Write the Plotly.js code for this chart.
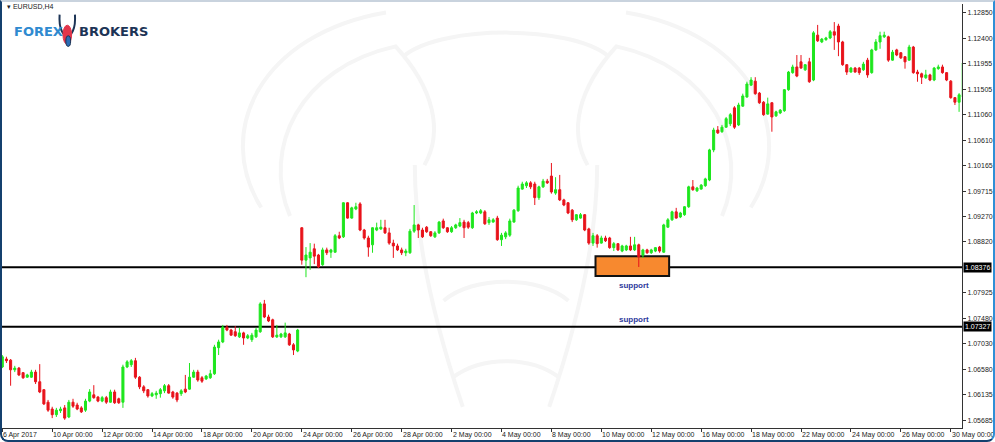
<!DOCTYPE html>
<html><head><meta charset="utf-8">
<script src="https://cdn.plot.ly/plotly-3.0.1.min.js"></script>
<style>
html,body{margin:0;padding:0;background:#fff;}
#wrap{position:relative;width:995px;height:442px;overflow:hidden;}
#chart{position:absolute;left:0;top:0;width:995px;height:442px;}
#frame{position:absolute;left:0;top:0;width:995px;height:442px;box-sizing:border-box;border:2px solid #14406e;border-top-color:#c9d3de;border-right-color:#2f8fd6;border-radius:0 0 8px 8px;pointer-events:none;}
</style></head><body>
<div id="wrap"><div id="chart"></div><div id="frame"></div></div>
<script>
// EURUSD H4 candles, 6 Apr 2017 .. 30 May 2017
const openP = [
1.0662,1.0676,1.0674,1.0657,1.0660,1.0652,1.0644,1.0644,1.0653,1.0636,1.0622,1.0600,1.0588,1.0578,1.0585,1.0590,1.0574,1.0600,1.0595,1.0590,
1.0586,1.0602,1.0613,1.0609,1.0602,1.0608,1.0600,1.0618,1.0606,1.0600,1.0662,1.0666,1.0673,1.0644,1.0627,1.0622,1.0611,1.0613,1.0615,1.0620,
1.0629,1.0618,1.0616,1.0615,1.0623,1.0623,1.0644,1.0653,1.0643,1.0641,1.0643,1.0650,1.0696,1.0706,1.0732,1.0727,1.0724,1.0715,1.0722,1.0713,
1.0710,1.0715,1.0724,1.0773,1.0750,1.0745,1.0715,1.0715,1.0715,1.0720,1.0701,1.0690,
1.0907,1.0850,1.0854,1.0870,1.0859,1.0842,1.0868,1.0864,1.0864,1.0893,1.0891,1.0951,1.0924,1.0940,1.0949,1.0903,1.0889,1.0877,1.0903,1.0905,
1.0907,1.0898,1.0880,1.0875,1.0868,1.0863,1.0863,1.0901,1.0912,1.0903,1.0908,1.0900,1.0891,1.0898,1.0919,1.0907,1.0900,1.0907,1.0910,1.0917,
1.0916,1.0907,1.0933,1.0933,1.0935,1.0916,1.0917,1.0924,1.0886,1.0891,1.0894,1.0917,1.0937,1.0975,1.0981,1.0986,1.0984,1.0960,1.0979,1.0989,
1.0998,1.0968,1.0974,1.0956,1.0951,1.0938,1.0921,1.0924,1.0930,1.0905,1.0880,1.0893,1.0880,1.0889,1.0889,1.0872,1.0879,1.0866,1.0868,1.0875,
1.0868,1.0877,1.0859,1.0868,1.0863,1.0866,1.0873,1.0864,1.0908,1.0921,1.0935,1.0926,1.0930,1.0944,1.0979,1.0972,1.0975,1.0981,1.0991,1.1044,
1.1079,1.1076,1.1084,1.1090,1.1118,1.1088,1.1121,1.1137,1.1158,1.1165,1.1144,1.1128,1.1107,1.1127,1.1104,1.1109,1.1113,1.1150,1.1180,1.1190,
1.1199,1.1185,1.1199,1.1167,1.1246,1.1234,1.1238,1.1241,1.1252,1.1262,1.1234,1.1194,1.1181,1.1188,1.1188,1.1185,1.1202,1.1180,1.1220,1.1234,
1.1243,1.1243,1.1202,1.1220,1.1215,1.1208,1.1202,1.1225,1.1181,1.1178,1.1171,1.1176,1.1167,1.1187,1.1190,1.1180,1.1165,1.1136,1.1128,1.1137];
const highP = [
1.0683,1.0680,1.0676,1.0664,1.0662,1.0653,1.0650,1.0657,1.0657,1.0667,1.0623,1.0604,1.0592,1.0590,1.0592,1.0595,1.0604,1.0606,1.0599,1.0593,
1.0606,1.0623,1.0630,1.0611,1.0611,1.0611,1.0622,1.0622,1.0608,1.0666,1.0674,1.0676,1.0678,1.0646,1.0630,1.0623,1.0618,1.0620,1.0625,1.0632,
1.0632,1.0620,1.0618,1.0623,1.0648,1.0669,1.0657,1.0657,1.0646,1.0648,1.0657,1.0701,1.0710,1.0736,1.0736,1.0729,1.0734,1.0731,1.0724,1.0720,
1.0722,1.0731,1.0776,1.0780,1.0754,1.0747,1.0736,1.0722,1.0740,1.0722,1.0704,1.0729,
1.0908,1.0873,1.0880,1.0879,1.0861,1.0872,1.0872,1.0870,1.0896,1.0900,1.0952,1.0952,1.0944,1.0951,1.0952,1.0905,1.0893,1.0908,1.0916,1.0921,
1.0921,1.0907,1.0886,1.0879,1.0872,1.0870,1.0905,1.0947,1.0914,1.0907,1.0910,1.0901,1.0901,1.0919,1.0923,1.0908,1.0910,1.0914,1.0924,1.0921,
1.0919,1.0935,1.0938,1.0940,1.0938,1.0926,1.0924,1.0928,1.0898,1.0901,1.0923,1.0940,1.0981,1.0988,1.0989,1.0989,1.0988,1.0981,1.0993,1.0993,
1.1021,1.0996,1.1000,1.0958,1.0952,1.0940,1.0931,1.0933,1.0931,1.0907,1.0898,1.0896,1.0893,1.0893,1.0891,1.0882,1.0880,1.0877,1.0877,1.0891,
1.0891,1.0879,1.0870,1.0870,1.0870,1.0873,1.0875,1.0914,1.0924,1.0937,1.0942,1.0935,1.0945,1.0981,1.0991,1.0979,1.0984,1.0995,1.1046,1.1083,
1.1086,1.1088,1.1102,1.1109,1.1121,1.1127,1.1143,1.1164,1.1172,1.1172,1.1146,1.1130,1.1136,1.1128,1.1113,1.1116,1.1151,1.1183,1.1194,1.1211,
1.1211,1.1195,1.1206,1.1253,1.1264,1.1241,1.1243,1.1255,1.1269,1.1266,1.1236,1.1195,1.1190,1.1190,1.1190,1.1199,1.1206,1.1222,1.1239,1.1252,
1.1252,1.1245,1.1220,1.1222,1.1216,1.1209,1.1229,1.1227,1.1185,1.1180,1.1185,1.1178,1.1190,1.1194,1.1194,1.1181,1.1167,1.1137,1.1144,1.1199];
const lowP = [
1.0660,1.0669,1.0629,1.0653,1.0646,1.0641,1.0643,1.0643,1.0632,1.0616,1.0595,1.0583,1.0572,1.0574,1.0581,1.0569,1.0572,1.0590,1.0586,1.0581,
1.0583,1.0600,1.0606,1.0600,1.0600,1.0597,1.0599,1.0597,1.0597,1.0590,1.0660,1.0662,1.0641,1.0623,1.0616,1.0608,1.0609,1.0606,1.0608,1.0616,
1.0615,1.0606,1.0600,1.0611,1.0616,1.0622,1.0643,1.0636,1.0634,1.0639,1.0641,1.0648,1.0683,1.0704,1.0725,1.0717,1.0715,1.0713,1.0701,1.0711,
1.0706,1.0713,1.0722,1.0748,1.0741,1.0713,1.0713,1.0713,1.0713,1.0699,1.0683,1.0688,
1.0842,1.0820,1.0833,1.0843,1.0836,1.0840,1.0859,1.0854,1.0863,1.0887,1.0889,1.0923,1.0923,1.0938,1.0901,1.0886,1.0856,1.0863,1.0901,1.0903,
1.0896,1.0877,1.0854,1.0866,1.0859,1.0857,1.0861,1.0898,1.0889,1.0889,1.0898,1.0891,1.0889,1.0896,1.0905,1.0898,1.0898,1.0905,1.0908,1.0889,
1.0905,1.0905,1.0931,1.0931,1.0912,1.0912,1.0916,1.0884,1.0875,1.0887,1.0891,1.0916,1.0935,1.0974,1.0977,1.0975,1.0947,1.0956,1.0977,1.0984,
1.0967,1.0965,1.0954,1.0945,1.0931,1.0917,1.0919,1.0923,1.0901,1.0877,1.0875,1.0872,1.0879,1.0882,1.0870,1.0866,1.0866,1.0864,1.0866,1.0866,
1.0866,1.0838,1.0854,1.0861,1.0861,1.0864,1.0863,1.0863,1.0907,1.0919,1.0923,1.0924,1.0928,1.0942,1.0972,1.0970,1.0974,1.0979,1.0989,1.1040,
1.1072,1.1074,1.1083,1.1086,1.1081,1.1086,1.1120,1.1136,1.1157,1.1141,1.1125,1.1104,1.1106,1.1076,1.1102,1.1107,1.1111,1.1148,1.1178,1.1172,
1.1187,1.1183,1.1162,1.1165,1.1234,1.1232,1.1236,1.1239,1.1220,1.1209,1.1192,1.1176,1.1180,1.1180,1.1176,1.1183,1.1171,1.1178,1.1218,1.1222,
1.1241,1.1199,1.1201,1.1209,1.1204,1.1187,1.1201,1.1178,1.1164,1.1160,1.1169,1.1165,1.1165,1.1185,1.1178,1.1165,1.1134,1.1123,1.1111,1.1136];
const closeP = [
1.0680,1.0673,1.0657,1.0660,1.0648,1.0643,1.0648,1.0653,1.0636,1.0618,1.0597,1.0586,1.0578,1.0586,1.0588,1.0572,1.0600,1.0593,1.0588,1.0583,
1.0602,1.0618,1.0608,1.0602,1.0608,1.0600,1.0618,1.0599,1.0599,1.0662,1.0671,1.0673,1.0644,1.0627,1.0620,1.0611,1.0615,1.0616,1.0622,1.0629,
1.0616,1.0609,1.0604,1.0620,1.0618,1.0644,1.0653,1.0639,1.0637,1.0646,1.0650,1.0697,1.0706,1.0732,1.0727,1.0718,1.0717,1.0722,1.0713,1.0717,
1.0718,1.0727,1.0773,1.0750,1.0743,1.0715,1.0718,1.0720,1.0722,1.0701,1.0692,1.0727,
1.0850,1.0859,1.0864,1.0857,1.0838,1.0868,1.0863,1.0868,1.0893,1.0889,1.0951,1.0924,1.0942,1.0944,1.0903,1.0889,1.0873,1.0907,1.0907,1.0908,
1.0898,1.0880,1.0875,1.0868,1.0863,1.0866,1.0901,1.0912,1.0903,1.0891,1.0900,1.0893,1.0898,1.0917,1.0907,1.0900,1.0907,1.0912,1.0916,1.0907,
1.0908,1.0933,1.0935,1.0937,1.0914,1.0921,1.0921,1.0886,1.0894,1.0898,1.0919,1.0938,1.0977,1.0984,1.0986,1.0979,1.0960,1.0979,1.0989,1.0986,
1.0970,1.0974,1.0956,1.0947,1.0933,1.0921,1.0930,1.0930,1.0903,1.0880,1.0893,1.0879,1.0889,1.0884,1.0872,1.0879,1.0868,1.0875,1.0875,1.0868,
1.0877,1.0856,1.0868,1.0863,1.0868,1.0872,1.0866,1.0912,1.0921,1.0935,1.0924,1.0933,1.0944,1.0979,1.0974,1.0977,1.0982,1.0993,1.1044,1.1079,
1.1074,1.1084,1.1099,1.1106,1.1084,1.1123,1.1139,1.1160,1.1167,1.1143,1.1127,1.1106,1.1125,1.1102,1.1111,1.1114,1.1150,1.1181,1.1190,1.1174,
1.1188,1.1194,1.1164,1.1250,1.1236,1.1239,1.1241,1.1252,1.1246,1.1234,1.1194,1.1181,1.1188,1.1181,1.1180,1.1195,1.1176,1.1220,1.1234,1.1245,
1.1246,1.1202,1.1216,1.1211,1.1206,1.1199,1.1225,1.1180,1.1178,1.1172,1.1176,1.1167,1.1188,1.1190,1.1180,1.1167,1.1136,1.1128,1.1141,1.1197];

const xTickBars = [0,12,24,36,48,60,72,84,96,108,120,132,144,156,168,180,192,204,216,228];
const xTickLabels = ["6 Apr 2017","10 Apr 00:00","12 Apr 00:00","14 Apr 00:00","18 Apr 00:00","20 Apr 00:00",
 "24 Apr 00:00","26 Apr 00:00","28 Apr 00:00","2 May 00:00","4 May 00:00","8 May 00:00","10 May 00:00",
 "12 May 00:00","16 May 00:00","18 May 00:00","22 May 00:00","24 May 00:00","26 May 00:00","30 May 00:00"];
const yTickVals = [1.12850,1.12400,1.11955,1.11505,1.11060,1.10610,1.10165,1.09715,1.09270,1.08820,1.07925,1.07480,1.07030,1.06580,1.06135,1.05685];
const supportLevels = [1.08376, 1.07327];

const idx = openP.map((_, i) => i);
const FONT = 'Liberation Sans, Arial, sans-serif';

const trace = {
  type: 'candlestick', x: idx, open: openP, high: highP, low: lowP, close: closeP,
  increasing: {line: {color: '#1ee61e', width: 1}, fillcolor: '#1ee61e'},
  decreasing: {line: {color: '#e8131b', width: 1}, fillcolor: '#e8131b'},
  whiskerwidth: 0, hoverinfo: 'skip', showlegend: false
};

const shapes = [];
// very faint background watermark (bull head outline), paper coordinates
const WM = '#f5f5f5';
const wmPaths = [
  'M 0.27 0.52 C 0.22 0.70, 0.27 0.93, 0.40 0.98',
  'M 0.78 0.52 C 0.83 0.70, 0.78 0.93, 0.65 0.98',
  'M 0.30 0.50 C 0.27 0.66, 0.31 0.85, 0.41 0.90 C 0.45 0.80, 0.46 0.70, 0.44 0.62',
  'M 0.75 0.50 C 0.78 0.66, 0.74 0.85, 0.64 0.90 C 0.60 0.80, 0.59 0.70, 0.61 0.62',
  'M 0.42 0.88 C 0.46 0.95, 0.59 0.95, 0.63 0.88',
  'M 0.43 0.62 C 0.43 0.45, 0.45 0.25, 0.48 0.05',
  'M 0.62 0.62 C 0.62 0.45, 0.60 0.25, 0.57 0.05',
  'M 0.46 0.30 C 0.49 0.36, 0.56 0.36, 0.59 0.30',
  'M 0.47 0.12 C 0.50 0.17, 0.55 0.17, 0.58 0.12'
];
wmPaths.forEach(p => shapes.push({type:'path', xref:'paper', yref:'paper', path:p,
  line:{color:WM, width:4}, layer:'below'}));
supportLevels.forEach(v => shapes.push({type:'line', xref:'paper', x0:0, x1:1, yref:'y', y0:v, y1:v,
  line:{color:'#000', width:2}, layer:'below'}));
shapes.push({type:'rect', xref:'x', yref:'y', x0:142.6, x1:160.3, y0:1.0822, y1:1.0857,
  fillcolor:'#f7892f', line:{color:'#111', width:2}, layer:'below'});

const annotations = [];
xTickLabels.forEach((t, k) => annotations.push({x: xTickBars[k], xref:'x', y:0, yref:'paper',
  xanchor:'left', yanchor:'top', yshift:-1, xshift:-1, text:t, showarrow:false,
  font:{family:FONT, size:7, color:'#222'}}));
supportLevels.forEach(v => annotations.push({x:1, xref:'paper', xanchor:'left', xshift:1, y:v, yref:'y',
  yanchor:'middle', text: v.toFixed(5), showarrow:false, bgcolor:'#000', borderpad:1,
  font:{family:FONT, size:7, color:'#fff'}}));
annotations.push({x:151.9, xref:'x', y:1.0805, yref:'y', text:'<b>support</b>', showarrow:false,
  font:{family:FONT, size:8, color:'#2d3a9c'}});
annotations.push({x:151.9, xref:'x', y:1.0746, yref:'y', text:'<b>support</b>', showarrow:false,
  font:{family:FONT, size:8, color:'#2d3a9c'}});
annotations.push({x:0.003, xref:'paper', y:0.993, yref:'paper', xanchor:'left', yanchor:'middle',
  text:'\u25BE EURUSD,H4', showarrow:false, font:{family:FONT, size:7, color:'#222'}});
annotations.push({x:0.0105, xref:'paper', y:0.936, yref:'paper', xanchor:'left', yanchor:'middle',
  text:'<b>FOREX</b>', showarrow:false, font:{family:'DejaVu Sans', size:13, color:'#2f8ad0'}});
annotations.push({x:0.0785, xref:'paper', y:0.936, yref:'paper', xanchor:'left', yanchor:'middle',
  text:'<b>BROKERS</b>', showarrow:false, font:{family:'DejaVu Sans', size:13, color:'#1c3456'}});
// small bull badge between the two words
shapes.push({type:'path', xref:'paper', yref:'paper',
  path:'M 0.0600 0.975 C 0.0590 0.940, 0.0640 0.925, 0.0680 0.925 C 0.0720 0.925, 0.0770 0.940, 0.0760 0.975',
  line:{color:'#1c3456', width:2}, layer:'above'});
shapes.push({type:'circle', xref:'paper', yref:'paper', x0:0.0635, x1:0.0725, y0:0.905, y1:0.950,
  fillcolor:'#e2364b', line:{color:'#e2364b', width:1}, layer:'above'});
shapes.push({type:'circle', xref:'paper', yref:'paper', x0:0.0665, x1:0.0715, y0:0.900, y1:0.925,
  fillcolor:'#2a6db5', line:{color:'#1c3456', width:1}, layer:'above'});

const layout = {
  width: 995, height: 442,
  margin: {l: 2, r: 33, t: 4, b: 14, pad: 0},
  paper_bgcolor: '#fff', plot_bgcolor: '#fff',
  showlegend: false,
  xaxis: {type:'linear', range:[-0.07, 230.7], rangeslider:{visible:false}, showgrid:false, zeroline:false,
    showline:true, linecolor:'#333', linewidth:1, ticks:'outside', ticklen:3, tickcolor:'#333',
    tickvals: xTickBars, showticklabels:false, fixedrange:true},
  yaxis: {side:'right', range:[1.05546, 1.13008], showgrid:false, zeroline:false, showline:true,
    linecolor:'#333', linewidth:1, ticks:'outside', ticklen:3, tickcolor:'#333',
    tickvals: yTickVals, ticktext: yTickVals.map(v => v.toFixed(5)),
    tickfont:{family:FONT, size:7, color:'#222'}, fixedrange:true},
  shapes: shapes, annotations: annotations
};
Plotly.newPlot('chart', [trace], layout, {displayModeBar:false, staticPlot:true});
</script></body></html>
